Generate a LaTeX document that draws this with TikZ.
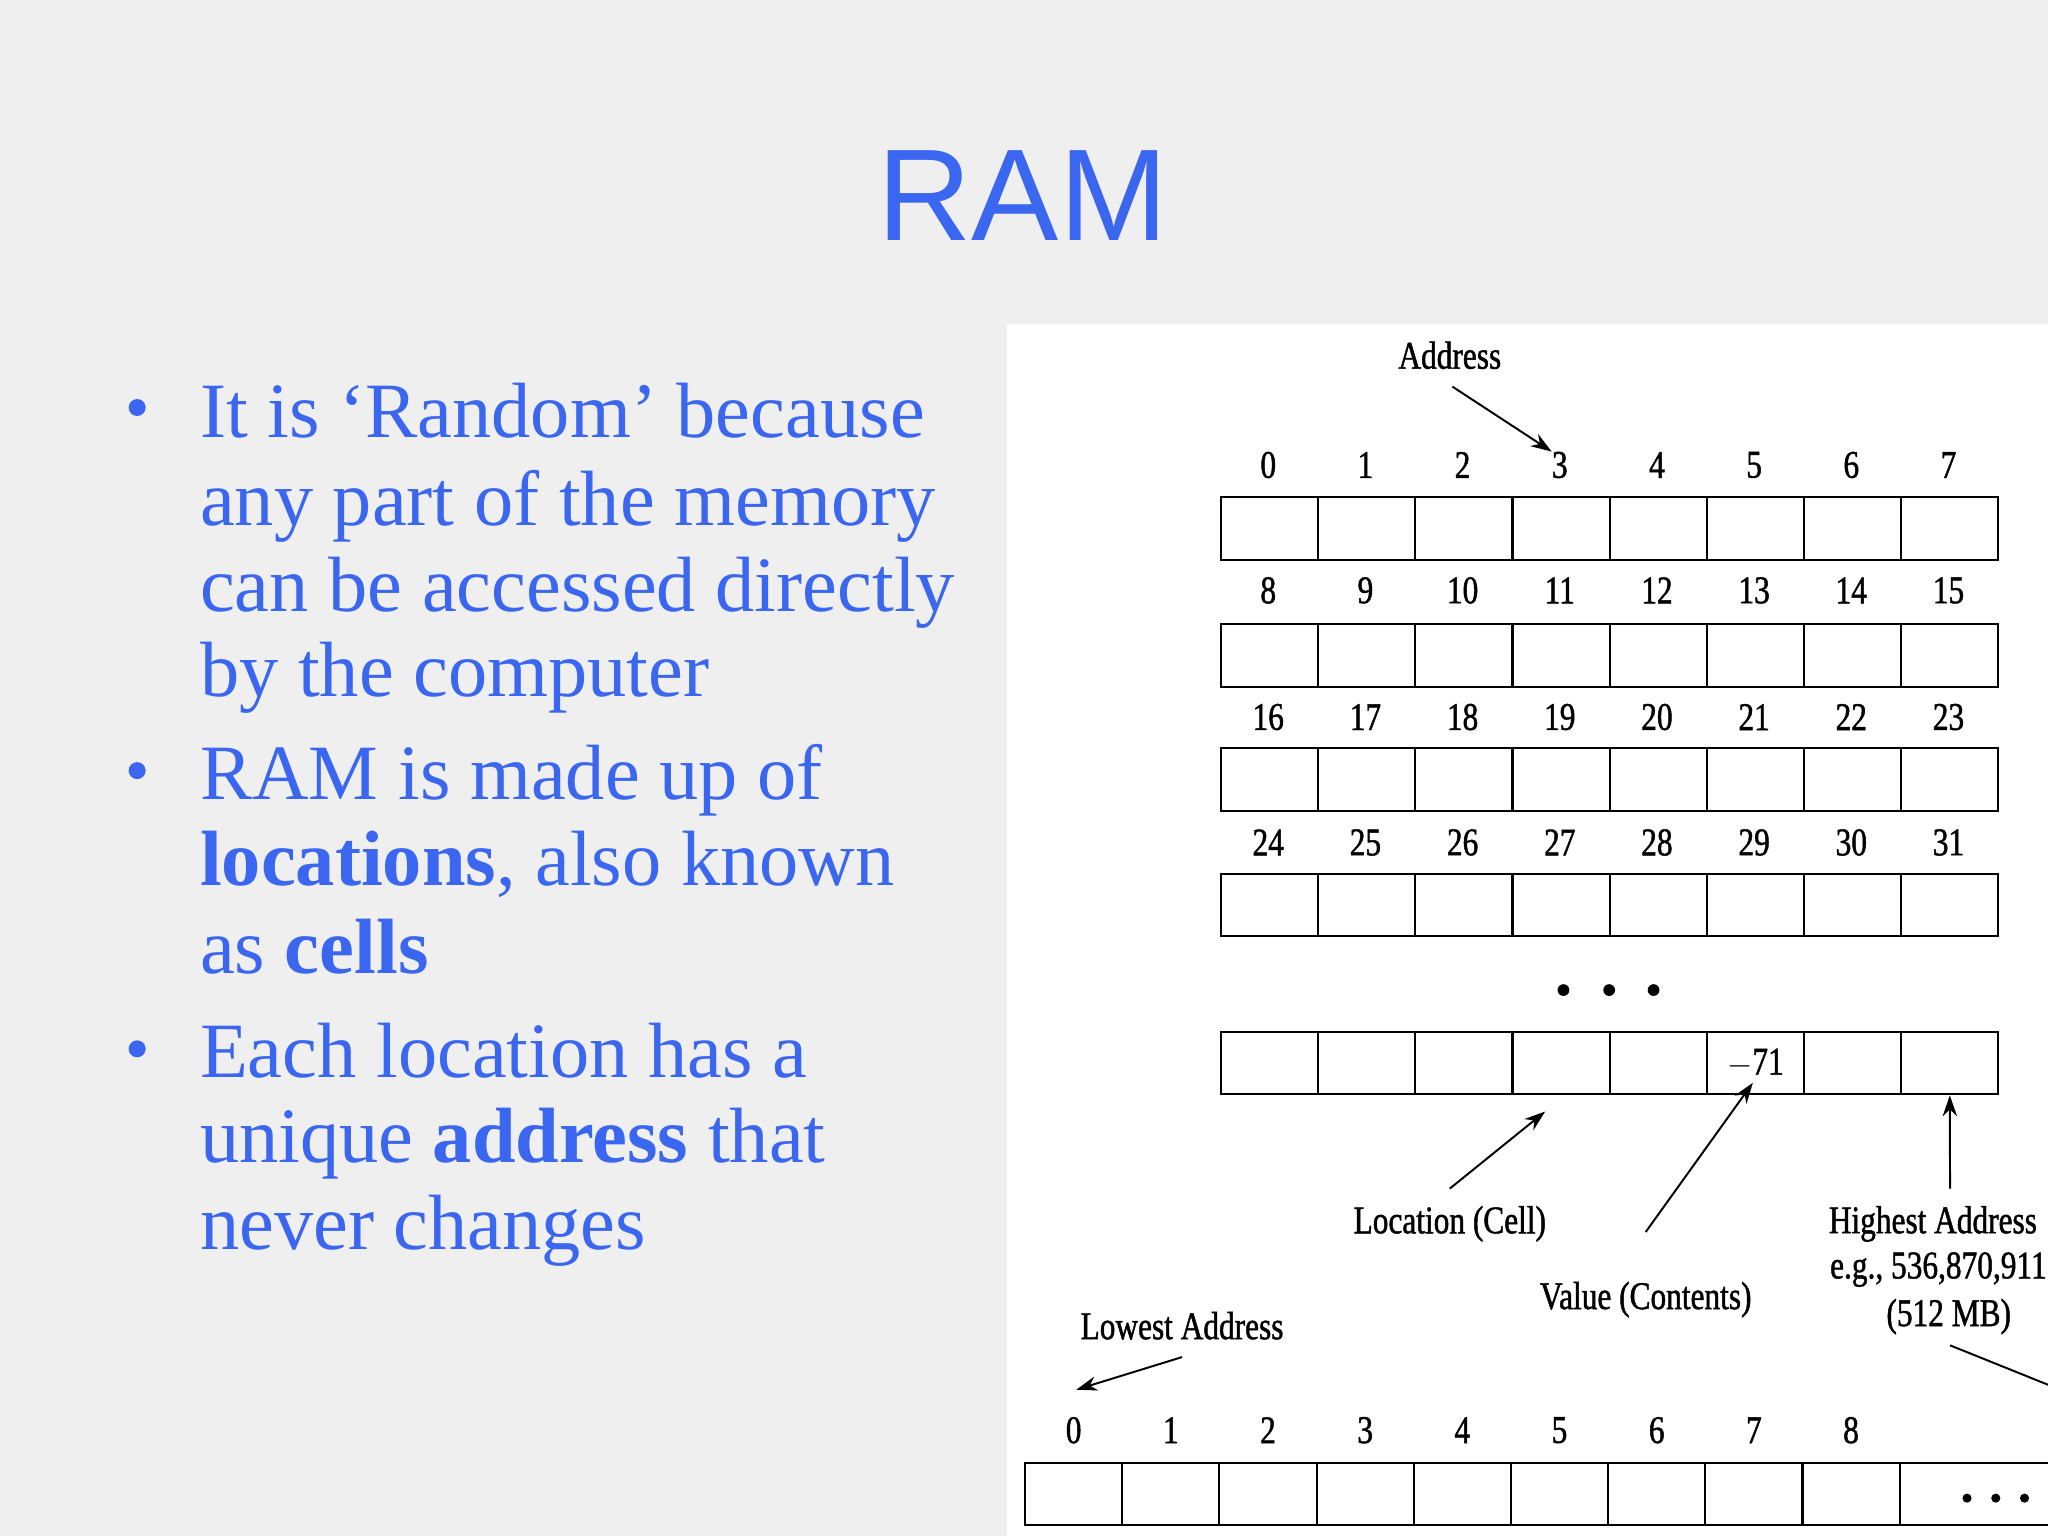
\documentclass[tikz,border=0pt]{standalone}
\usepackage{fontspec}
\setmainfont{Liberation Serif}
\newfontfamily\titlefont{Liberation Sans}
\newfontfamily\diafont[FakeStretch=0.8,FakeBold=1.2]{Liberation Serif}
\usetikzlibrary{arrows.meta}
\definecolor{slideblue}{HTML}{3B66F0}
\definecolor{slidebg}{HTML}{EFEFEF}
\tikzset{
  cellbox/.style={draw=black,line width=1.6pt,minimum width=74.4pt,minimum height=48pt,inner sep=0pt,anchor=north west},
  num/.style={font=\diafont\fontsize{30}{32}\selectfont,inner sep=0pt},
  lbl/.style={font=\diafont\fontsize{30}{34}\selectfont,inner sep=0pt,align=center},
  arr/.style={line width=1.5pt,-{Stealth[length=16pt,width=11pt]}},
  btext/.style={font=\fontsize{60}{66}\selectfont,text=slideblue,anchor=base west,inner sep=0pt},
  bdot/.style={circle,fill=slideblue,minimum size=13pt,inner sep=0pt}
}
\begin{document}
\begin{tikzpicture}[x=1pt,y=-1pt]
\useasboundingbox (0,0) rectangle (1568,1176);
\clip (0,0) rectangle (1568,1176);
\fill[slidebg] (0,0) rectangle (1568,1176);
\fill[white] (771,248) rectangle (1568,1176);
\node[font=\titlefont\fontsize{100}{100}\selectfont,text=slideblue,inner sep=0pt] (title) at (783,150) {RAM};
% bullets
\node[bdot] (b1) at (105,312) {};
\node[bdot] (b2) at (105,590) {};
\node[bdot] (b3) at (105,803) {};
\node[btext] (t1) at (153,335) {It is ‘Random’ because};
\node[btext] (t2) at (153,402) {any part of the memory};
\node[btext] (t3) at (153,468) {can be accessed directly};
\node[btext] (t4) at (153,533) {by the computer};
\node[btext] (t5) at (153,612) {RAM is made up of};
\node[btext] (t6) at (153,678) {\textbf{locations}, also known};
\node[btext] (t7) at (153,745) {as \textbf{cells}};
\node[btext] (t8) at (153,825) {Each location has a};
\node[btext] (t9) at (153,890) {unique \textbf{address} that};
\node[btext] (t10) at (153,957) {never changes};
% grid
\foreach \r/\y/\ny in {0/380/356,1/477/452,2/572/549,3/668/645}{
  \foreach \c in {0,...,7}{
    \pgfmathtruncatemacro\n{8*\r+\c}
    \node[cellbox] (c\n) at ({934+74.4*\c},\y) {};
    \node[num] (n\n) at ({971+74.4*\c},\ny) {\n};
  }
}
\foreach \c in {0,...,7}{\node[cellbox] (z\c) at ({934+74.4*\c},789) {};}
\node[num] (v71) at (z5.center) {$-$71};
\foreach \x [count=\i] in {1197,1232,1266}{\fill (\x,758) circle (4.5pt);}
% labels
\node[lbl] (addr) at (1110,272) {Address};
\draw[arr] (1112,296) -- (n3.north west);
\node[lbl] (loc) at (1110,937) {Location (Cell)};
\draw[arr] (1110,910) -- (1183,851);
\node[lbl] (val) at (1260,995) {Value (Contents)};
\draw[arr] (val.north) ++(0,-38) -- (1342,829);
\node[lbl,anchor=west] (hi1) at (1400,937) {Highest Address};
\node[lbl,anchor=west] (hi2) at (1401,972) {e.g., 536,870,911};
\node[lbl] (hi3) at (1492,1008) {(512 MB)};
\draw[arr] (1493,910) -- (z7.south);
\draw[line width=1.5pt] (1493,1030) -- (1575,1063);
\node[lbl] (lo) at (905,1015) {Lowest Address};
\draw[arr] (905,1039) -- (824,1064);
\foreach \c in {0,...,8}{
  \node[num] (m\c) at ({822+74.4*\c},1095) {\c};
}
\foreach \c in {0,...,8}{\node[cellbox] (w\c) at ({784+74.4*\c},1119) {};}
\node[cellbox,minimum width=200pt] (w9) at (1453.6,1119) {};
\foreach \x in {1506,1528,1550}{\fill (\x,1147) circle (3.5pt);}
\end{tikzpicture}
\end{document}
